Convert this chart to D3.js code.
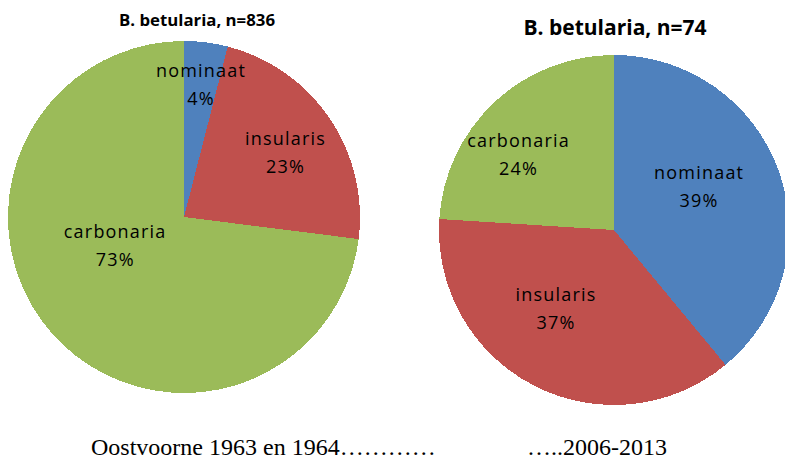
<!DOCTYPE html>
<html>
<head>
<meta charset="utf-8">
<script src="https://cdn.jsdelivr.net/npm/d3@7"></script>
<style>
  body { margin: 0; background: #fff; }
</style>
</head>
<body>
<div id="chart"></div>
<script>
// Categories and values (percent) for both samples
const categories = ['nominaat', 'insularis', 'carbonaria'];
const values1964 = [4, 23, 73];
const values2013 = [39, 37, 24];
const titles = ['B. betularia, n=836', 'B. betularia, n=74'];
const captions = ['Oostvoorne 1963 en 1964…………', '…..2006-2013'];

const colors = d3.scaleOrdinal()
  .domain(categories)
  .range(['#4F81BD', '#C0504D', '#9BBB59']);

const width = 785;
const height = 460;

const svg = d3.select('#chart').append('svg')
  .attr('width', width)
  .attr('height', height);

// layout for each pie (label placement mimics Excel's best fit)
const charts = [
  { values: values1964, title: titles[0], cx: 184, cy: 217, r: 176,
    titleX: 197, titleY: 26, titleSize: 16.8,
    labelPos: [[0.77, 0], [0.69, 1], [0.42, 20]] },
  { values: values2013, title: titles[1], cx: 614, cy: 230, r: 175,
    titleX: 615, titleY: 35, titleSize: 21,
    labelPos: [[0.55, -8], [0.55, 10], [0.70, -8]] }
];

const pie = d3.pie().sort(null).value(d => d.value);

charts.forEach(c => {
  const data = categories.map((k, i) => ({ key: k, value: c.values[i] }));
  const arcs = pie(data);
  const arc = d3.arc().innerRadius(0).outerRadius(c.r);

  const g = svg.append('g')
    .attr('transform', 'translate(' + c.cx + ',' + c.cy + ')');

  g.selectAll('path')
    .data(arcs)
    .enter().append('path')
    .attr('d', arc)
    .attr('fill', d => colors(d.data.key))
    .attr('shape-rendering', 'crispEdges');

  const labels = g.selectAll('text.lbl')
    .data(arcs)
    .enter().append('text')
    .attr('class', 'lbl')
    .attr('transform', (d, i) => {
      const a = (d.startAngle + d.endAngle) / 2 + c.labelPos[i][1] * Math.PI / 180;
      const rr = c.r * c.labelPos[i][0];
      return 'translate(' + (Math.sin(a) * rr) + ',' + (-Math.cos(a) * rr) + ')';
    })
    .attr('text-anchor', 'middle')
    .attr('font-family', 'Open Sans, sans-serif')
    .attr('font-size', 18)
    .attr('letter-spacing', 1.2)
    .attr('fill', '#000');

  labels.append('tspan')
    .attr('x', 0)
    .attr('y', -6)
    .text(d => d.data.key);
  labels.append('tspan')
    .attr('x', 0)
    .attr('y', 22)
    .text(d => d.data.value + '%');

  svg.append('text')
    .attr('x', c.titleX)
    .attr('y', c.titleY)
    .attr('text-anchor', 'middle')
    .attr('font-family', 'Open Sans, sans-serif')
    .attr('font-weight', 'bold')
    .attr('font-size', c.titleSize)
    .text(c.title);
});

svg.append('text')
  .attr('x', 91)
  .attr('y', 455)
  .attr('font-family', 'Liberation Serif, serif')
  .attr('font-size', 24)
  .text(captions[0]);

svg.append('text')
  .attr('x', 527)
  .attr('y', 455)
  .attr('font-family', 'Liberation Serif, serif')
  .attr('font-size', 24)
  .text(captions[1]);
</script>
</body>
</html>
